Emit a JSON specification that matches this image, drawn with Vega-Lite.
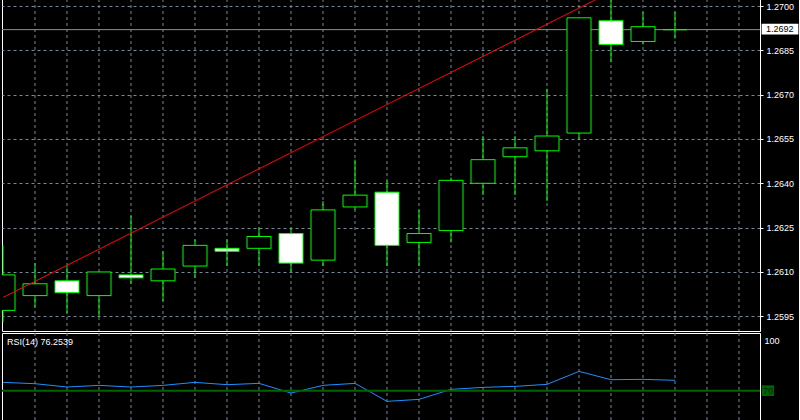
{
  "$schema": "https://vega.github.io/schema/vega-lite/v6.json",
  "background": "#000000",
  "padding": {"left": 0, "top": -2, "right": 0, "bottom": 0},
  "spacing": 0,
  "config": {
    "view": {"stroke": "#ffffff", "strokeWidth": 1, "fill": "#000000"},
    "axis": {
      "gridColor": "#778899", "gridDash": [3, 3], "gridWidth": 1, "gridOpacity": 1,
      "labelColor": "#ffffff", "labelFont": "Liberation Sans", "labelFontSize": 9,
      "domainColor": "#ffffff", "tickColor": "#ffffff", "labelFlush": false
    }
  },
  "datasets": {
    "candles": [
      {"idx": 0, "open": 1.2597, "high": 1.2619, "low": 1.2593, "close": 1.2609},
      {"idx": 1, "open": 1.2602, "high": 1.2613, "low": 1.2598, "close": 1.2606},
      {"idx": 2, "open": 1.2607, "high": 1.2612, "low": 1.2596, "close": 1.2603},
      {"idx": 3, "open": 1.2602, "high": 1.2610, "low": 1.2595, "close": 1.2610},
      {"idx": 4, "open": 1.2609, "high": 1.2629, "low": 1.2606, "close": 1.2608},
      {"idx": 5, "open": 1.2607, "high": 1.2617, "low": 1.2600, "close": 1.2611},
      {"idx": 6, "open": 1.2612, "high": 1.2621, "low": 1.2608, "close": 1.2619},
      {"idx": 7, "open": 1.2618, "high": 1.2621, "low": 1.2612, "close": 1.2617},
      {"idx": 8, "open": 1.2618, "high": 1.2625, "low": 1.2612, "close": 1.2622},
      {"idx": 9, "open": 1.2623, "high": 1.2625, "low": 1.2610, "close": 1.2613},
      {"idx": 10, "open": 1.2614, "high": 1.2634, "low": 1.2612, "close": 1.2631},
      {"idx": 11, "open": 1.2632, "high": 1.2648, "low": 1.2631, "close": 1.2636},
      {"idx": 12, "open": 1.2637, "high": 1.2641, "low": 1.2612, "close": 1.2619},
      {"idx": 13, "open": 1.2620, "high": 1.2631, "low": 1.2612, "close": 1.2623},
      {"idx": 14, "open": 1.2624, "high": 1.2642, "low": 1.2620, "close": 1.2641},
      {"idx": 15, "open": 1.2640, "high": 1.2656, "low": 1.2636, "close": 1.2648},
      {"idx": 16, "open": 1.2649, "high": 1.2656, "low": 1.2636, "close": 1.2652},
      {"idx": 17, "open": 1.2651, "high": 1.2672, "low": 1.2634, "close": 1.2656},
      {"idx": 18, "open": 1.2657, "high": 1.2696, "low": 1.2655, "close": 1.2696},
      {"idx": 19, "open": 1.2695, "high": 1.2703, "low": 1.2681, "close": 1.2687},
      {"idx": 20, "open": 1.2688, "high": 1.2698, "low": 1.2687, "close": 1.2693},
      {"idx": 21, "open": 1.2692, "high": 1.2698, "low": 1.2689, "close": 1.2692}
    ],
    "rsi": [
      {"idx": 0, "rsi": 75.0}, {"idx": 1, "rsi": 74.2}, {"idx": 2, "rsi": 72.2},
      {"idx": 3, "rsi": 73.2}, {"idx": 4, "rsi": 72.2}, {"idx": 5, "rsi": 73.2},
      {"idx": 6, "rsi": 75.0}, {"idx": 7, "rsi": 73.6}, {"idx": 8, "rsi": 74.4},
      {"idx": 9, "rsi": 68.6}, {"idx": 10, "rsi": 73.2}, {"idx": 11, "rsi": 74.4},
      {"idx": 12, "rsi": 63.6}, {"idx": 13, "rsi": 64.8}, {"idx": 14, "rsi": 70.8},
      {"idx": 15, "rsi": 72.0}, {"idx": 16, "rsi": 72.6}, {"idx": 17, "rsi": 73.8},
      {"idx": 18, "rsi": 81.6}, {"idx": 19, "rsi": 76.6}, {"idx": 20, "rsi": 76.8},
      {"idx": 21, "rsi": 76.2539}
    ],
    "trend": [{"idx": 0, "p": 1.26014}, {"idx": 20, "p": 1.27102}],
    "bid": [{"p": 1.2692, "label": "1.2692"}],
    "level": [{"v": 70, "label": "70"}],
    "rsititle": [{"label": "RSI(14) 76.2539"}]
  },
  "vconcat": [
    {
      "width": 758,
      "height": 332,
      "encoding": {
        "x": {
          "type": "quantitative",
          "scale": {"domain": [-0.03125, 23.65625], "nice": false, "zero": false, "padding": 0},
          "axis": {"values": [1,2,3,4,5,6,7,8,9,10,11,12,13,14,15,16,17,18,19,20,21,22,23], "labels": false, "ticks": false, "domain": false, "grid": true, "title": null, "translate": 0}
        },
        "y": {
          "type": "quantitative",
          "scale": {"domain": [1.259002, 1.270237], "nice": false, "zero": false, "padding": 0},
          "axis": {"orient": "right", "values": [1.2595, 1.2610, 1.2625, 1.2640, 1.2655, 1.2670, 1.2685, 1.2700], "format": ".4f", "title": null, "tickSize": 3, "labelPadding": 3, "grid": true}
        }
      },
      "layer": [
        {
          "data": {"name": "bid"},
          "mark": {"type": "rule", "color": "#8f8f8f", "strokeWidth": 1},
          "encoding": {
            "x": null,
            "y": {"field": "p"}
          }
        },
        {
          "data": {"name": "candles"},
          "mark": {"type": "rule", "color": "#00ff00", "strokeWidth": 1, "clip": true},
          "encoding": {
            "x": {"field": "idx"},
            "y": {"field": "low"},
            "y2": {"field": "high"}
          }
        },
        {
          "data": {"name": "candles"},
          "mark": {"type": "bar", "size": 24, "stroke": "#00ff00", "strokeWidth": 1, "clip": true},
          "encoding": {
            "x": {"field": "idx"},
            "y": {"field": "open"},
            "y2": {"field": "close"},
            "fill": {"condition": {"test": "datum.close < datum.open", "value": "#ffffff"}, "value": "#000000"}
          }
        },
        {
          "data": {"name": "trend"},
          "mark": {"type": "line", "color": "#ff0000", "strokeWidth": 1, "clip": true},
          "encoding": {
            "x": {"field": "idx"},
            "y": {"field": "p"}
          }
        },
        {
          "data": {"name": "bid"},
          "mark": {"type": "point", "shape": "M-1,-0.29L1,-0.29L1,0.29L-1,0.29Z", "filled": true, "color": "#ffffff", "fill": "#ffffff", "opacity": 1, "size": 1347, "xOffset": 20, "yOffset": -0.5, "strokeWidth": 0},
          "encoding": {
            "x": {"value": "width"},
            "y": {"field": "p"}
          }
        },
        {
          "data": {"name": "bid"},
          "mark": {"type": "text", "align": "left", "baseline": "middle", "dx": 6, "dy": -0.5, "font": "Liberation Sans", "fontSize": 9, "color": "#000000"},
          "encoding": {
            "x": {"value": "width"},
            "y": {"field": "p"},
            "text": {"field": "label"}
          }
        }
      ]
    },
    {
      "width": 758,
      "height": 88,
      "encoding": {
        "x": {
          "type": "quantitative",
          "scale": {"domain": [-0.03125, 23.65625], "nice": false, "zero": false, "padding": 0},
          "axis": {"values": [1,2,3,4,5,6,7,8,9,10,11,12,13,14,15,16,17,18,19,20,21,22,23], "labels": false, "ticks": false, "domain": false, "grid": true, "title": null, "translate": 0}
        },
        "y": {
          "type": "quantitative",
          "scale": {"domain": [51.82, 104.62], "nice": false, "zero": false, "padding": 0},
          "axis": {"orient": "right", "values": [100], "grid": false, "ticks": false, "tickSize": 0, "labelPadding": 4, "title": null}
        }
      },
      "layer": [
        {
          "data": {"name": "rsi"},
          "mark": {"type": "line", "color": "#1e90ff", "strokeWidth": 1},
          "encoding": {
            "x": {"field": "idx"},
            "y": {"field": "rsi"}
          }
        },
        {
          "data": {"name": "level"},
          "mark": {"type": "rule", "color": "#006400", "strokeWidth": 2},
          "encoding": {
            "x": null,
            "y": {"field": "v"}
          }
        },
        {
          "data": {"name": "level"},
          "mark": {"type": "point", "shape": "M-1,-0.89L1,-0.89L1,0.89L-1,0.89Z", "filled": true, "color": "#006400", "fill": "#006400", "opacity": 1, "size": 144, "xOffset": 8, "strokeWidth": 0},
          "encoding": {
            "x": {"value": "width"},
            "y": {"field": "v"}
          }
        },
        {
          "data": {"name": "level"},
          "mark": {"type": "text", "align": "center", "baseline": "middle", "dx": 8, "font": "Liberation Sans", "fontSize": 9, "color": "#001c00"},
          "encoding": {
            "x": {"value": "width"},
            "y": {"field": "v"},
            "text": {"field": "label"}
          }
        },
        {
          "data": {"name": "rsititle"},
          "mark": {"type": "text", "align": "left", "baseline": "middle", "dx": 5, "font": "Liberation Sans", "fontSize": 9, "color": "#ffffff"},
          "encoding": {
            "x": {"datum": -0.03125},
            "y": {"datum": 99.2},
            "text": {"field": "label"}
          }
        }
      ]
    }
  ]
}
